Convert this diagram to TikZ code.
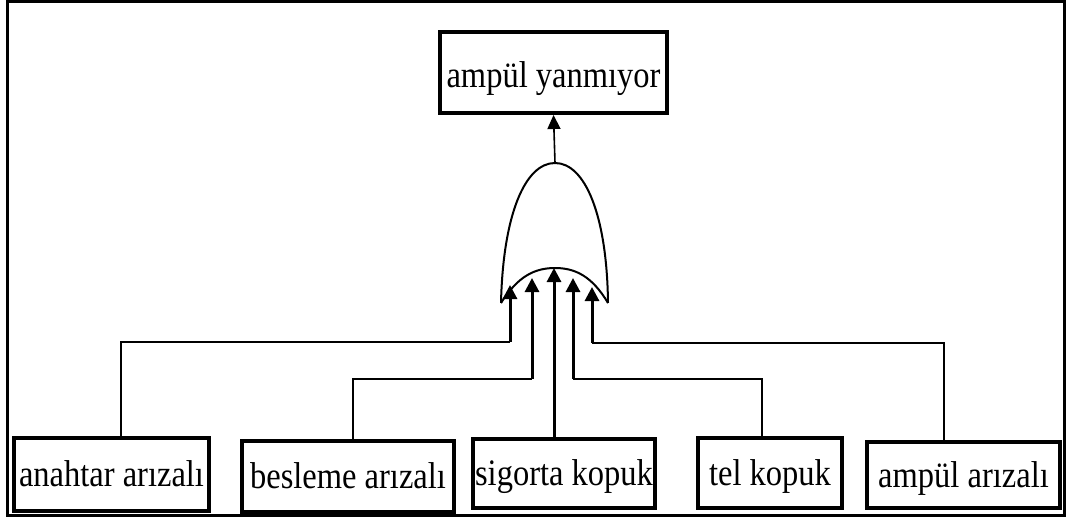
\documentclass[tikz,border=0pt]{standalone}
\usepackage{graphicx}
\usepackage{fontspec}
\setmainfont{Liberation Serif}
\usetikzlibrary{arrows.meta}

\newcommand{\tall}[1]{\scalebox{1}[1.15]{#1}}

\begin{document}
\begin{tikzpicture}[x=1pt, y=-1pt,
    event/.style={draw, line width=4pt, inner sep=0pt, text height=24pt, text depth=0pt,
      font=\fontsize{32.5}{36}\selectfont},
    link/.style={line width=1.6pt},
    feed/.style={line width=3pt, -{Triangle[width=14pt,length=14pt]}}]
  \useasboundingbox (0,0) rectangle (1069,519);
  \draw[line width=3pt] (7,1.5) rectangle (1064,515);

  % top event and the basic events
  \node[event, text height=31pt, minimum width=227pt, minimum height=81pt] (lamp) at (553.5,72.5) {\tall{ampül yanmıyor}};
  \node[event, minimum width=195pt, minimum height=73pt] (switch) at (111.5,474.5) {\tall{anahtar arızalı}};
  \node[event, minimum width=212pt, minimum height=71pt] (supply) at (348,476.5) {\tall{besleme arızalı}};
  \node[event, minimum width=182pt, minimum height=69pt] (fuse) at (564,473.5) {\tall{sigorta kopuk}};
  \node[event, minimum width=144pt, minimum height=70pt] (wire) at (770,473) {\tall{tel kopuk}};
  \node[event, minimum width=193pt, minimum height=66pt] (bulb) at (963.5,475) {\tall{ampül arızalı}};

  % or gate
  \coordinate (apex) at (555,163);
  \coordinate (gl) at (501,303);
  \coordinate (gr) at (608,303);
  \draw[line width=2pt] (gl) .. controls (503,215) and (525,163) .. (apex) .. controls (585,163) and (607,215) .. (gr);
  \draw[line width=2pt] (gl) .. controls (518,276) and (535,268) .. (555,268) .. controls (575,268) and (592,276) .. (gr);
  \draw[link, -{Triangle[width=13pt,length=14pt]}] (apex) -- (lamp.south);

  % gate inputs
  \coordinate (in1) at (510,285);
  \coordinate (in2) at (532,278);
  \coordinate (in3) at (554,268);
  \coordinate (in4) at (573,278);
  \coordinate (in5) at (592,287);
  \coordinate (k1) at (510,342);
  \coordinate (k2) at (532,379);
  \coordinate (k4) at (573,379);
  \coordinate (k5) at (592,343);

  \draw[link] ([xshift=9.5pt]switch.north) |- (k1);
  \draw[feed] (k1) -- (in1);
  \draw[link] ([xshift=5pt]supply.north) |- (k2);
  \draw[feed] (k2) -- (in2);
  \draw[feed] ([xshift=-10pt]fuse.north) -- (in3);
  \draw[link] ([xshift=-8pt]wire.north) |- (k4);
  \draw[feed] (k4) -- (in4);
  \draw[link] ([xshift=-19.5pt]bulb.north) |- (k5);
  \draw[feed] (k5) -- (in5);
\end{tikzpicture}
\end{document}
